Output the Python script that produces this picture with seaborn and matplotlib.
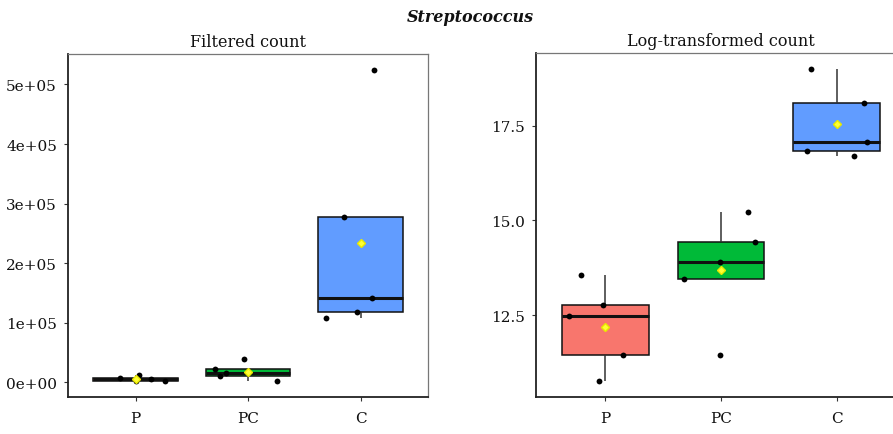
import numpy as np
import pandas as pd
import matplotlib
matplotlib.use("Agg")
import matplotlib.pyplot as plt
import seaborn as sns
from matplotlib.ticker import FuncFormatter, FixedLocator

groups = ["P", "PC", "C"]
colors = ["#F8766D", "#00BA38", "#619CFF"]

filtered_P = [12100, 5700, 6900, 2800, 1700]
filtered_PC = [2800, 11200, 15300, 22100, 39000]
filtered_C = [108000, 119000, 142000, 277000, 525000]

log_P = [13.56, 12.47, 12.76, 11.44, 10.75]
log_PC = [11.44, 13.45, 13.90, 14.43, 15.22]
log_C = [16.71, 16.84, 17.08, 18.11, 19.01]

left_ticks = [0, 100000, 200000, 300000, 400000, 500000]
right_ticks = [12.5, 15.0, 17.5]

title = "Streptococcus"
sub_left = "Filtered count"
sub_right = "Log-transformed count"


def make_df(p, pc, c):
    rows = []
    for g, vals in zip(groups, [p, pc, c]):
        for v in vals:
            rows.append({"group": g, "value": v})
    return pd.DataFrame(rows)


df_f = make_df(filtered_P, filtered_PC, filtered_C)
df_l = make_df(log_P, log_PC, log_C)

sns.set_theme(style="white")
plt.rcParams["font.family"] = ["DejaVu Serif"]

fig = plt.figure(figsize=(8.93, 4.35), dpi=100)
ax1 = fig.add_axes([68 / 893, 37 / 435, 360 / 893, 343 / 435])
ax2 = fig.add_axes([536 / 893, 37 / 435, 370 / 893, 344 / 435])


def draw(ax, df, seed):
    np.random.seed(seed)
    sns.boxplot(
        data=df, x="group", y="value", hue="group", order=groups, hue_order=groups,
        palette=colors, legend=False, width=0.75, showfliers=False, whis=1.5,
        linecolor="#111111", linewidth=1.1, saturation=1, ax=ax,
        medianprops=dict(color="#111111", linewidth=2.2),
        whiskerprops=dict(color="#333333", linewidth=1.1),
        capprops=dict(linewidth=0),
        showmeans=True,
        meanprops=dict(marker="D", markerfacecolor="#FFFF33", markeredgecolor="#E8E800",
                       markersize=4.5, zorder=5),
    )
    sns.stripplot(data=df, x="group", y="value", order=groups, color="black",
                  size=4.2, jitter=0.33, ax=ax, zorder=4)
    ax.set_xlim(-0.6, 2.6)
    ax.set_xlabel("")
    ax.set_ylabel("")
    for side in ["top", "right"]:
        ax.spines[side].set_color("#777777")
        ax.spines[side].set_linewidth(0.9)
    for side in ["left", "bottom"]:
        ax.spines[side].set_color("#222222")
        ax.spines[side].set_linewidth(1.3)
    ax.tick_params(axis="both", length=3, width=0.8, color="#333333",
                   labelsize=11, labelcolor="#111111", pad=5, direction="out",
                   left=True, bottom=True)
    ax.tick_params(axis="x", pad=7)


draw(ax1, df_f, 3)
ax1.yaxis.set_major_locator(FixedLocator(left_ticks))
ax1.yaxis.set_major_formatter(FuncFormatter(lambda v, p: f"{v:.0e}"))

draw(ax2, df_l, 11)
ax2.yaxis.set_major_locator(FixedLocator(right_ticks))
ax2.yaxis.set_major_formatter(FuncFormatter(lambda v, p: f"{v:.1f}"))

ax1.set_title(sub_left, fontsize=11.5, pad=6, color="#111111")
ax2.set_title(sub_right, fontsize=11.5, pad=6, color="#111111")
fig.text(470 / 893, 1 - 18 / 435, title, ha="center", va="center",
         fontsize=11.5, fontweight="bold", fontstyle="italic", color="#111111")

fig.savefig("out.png", dpi=100, facecolor="white")
